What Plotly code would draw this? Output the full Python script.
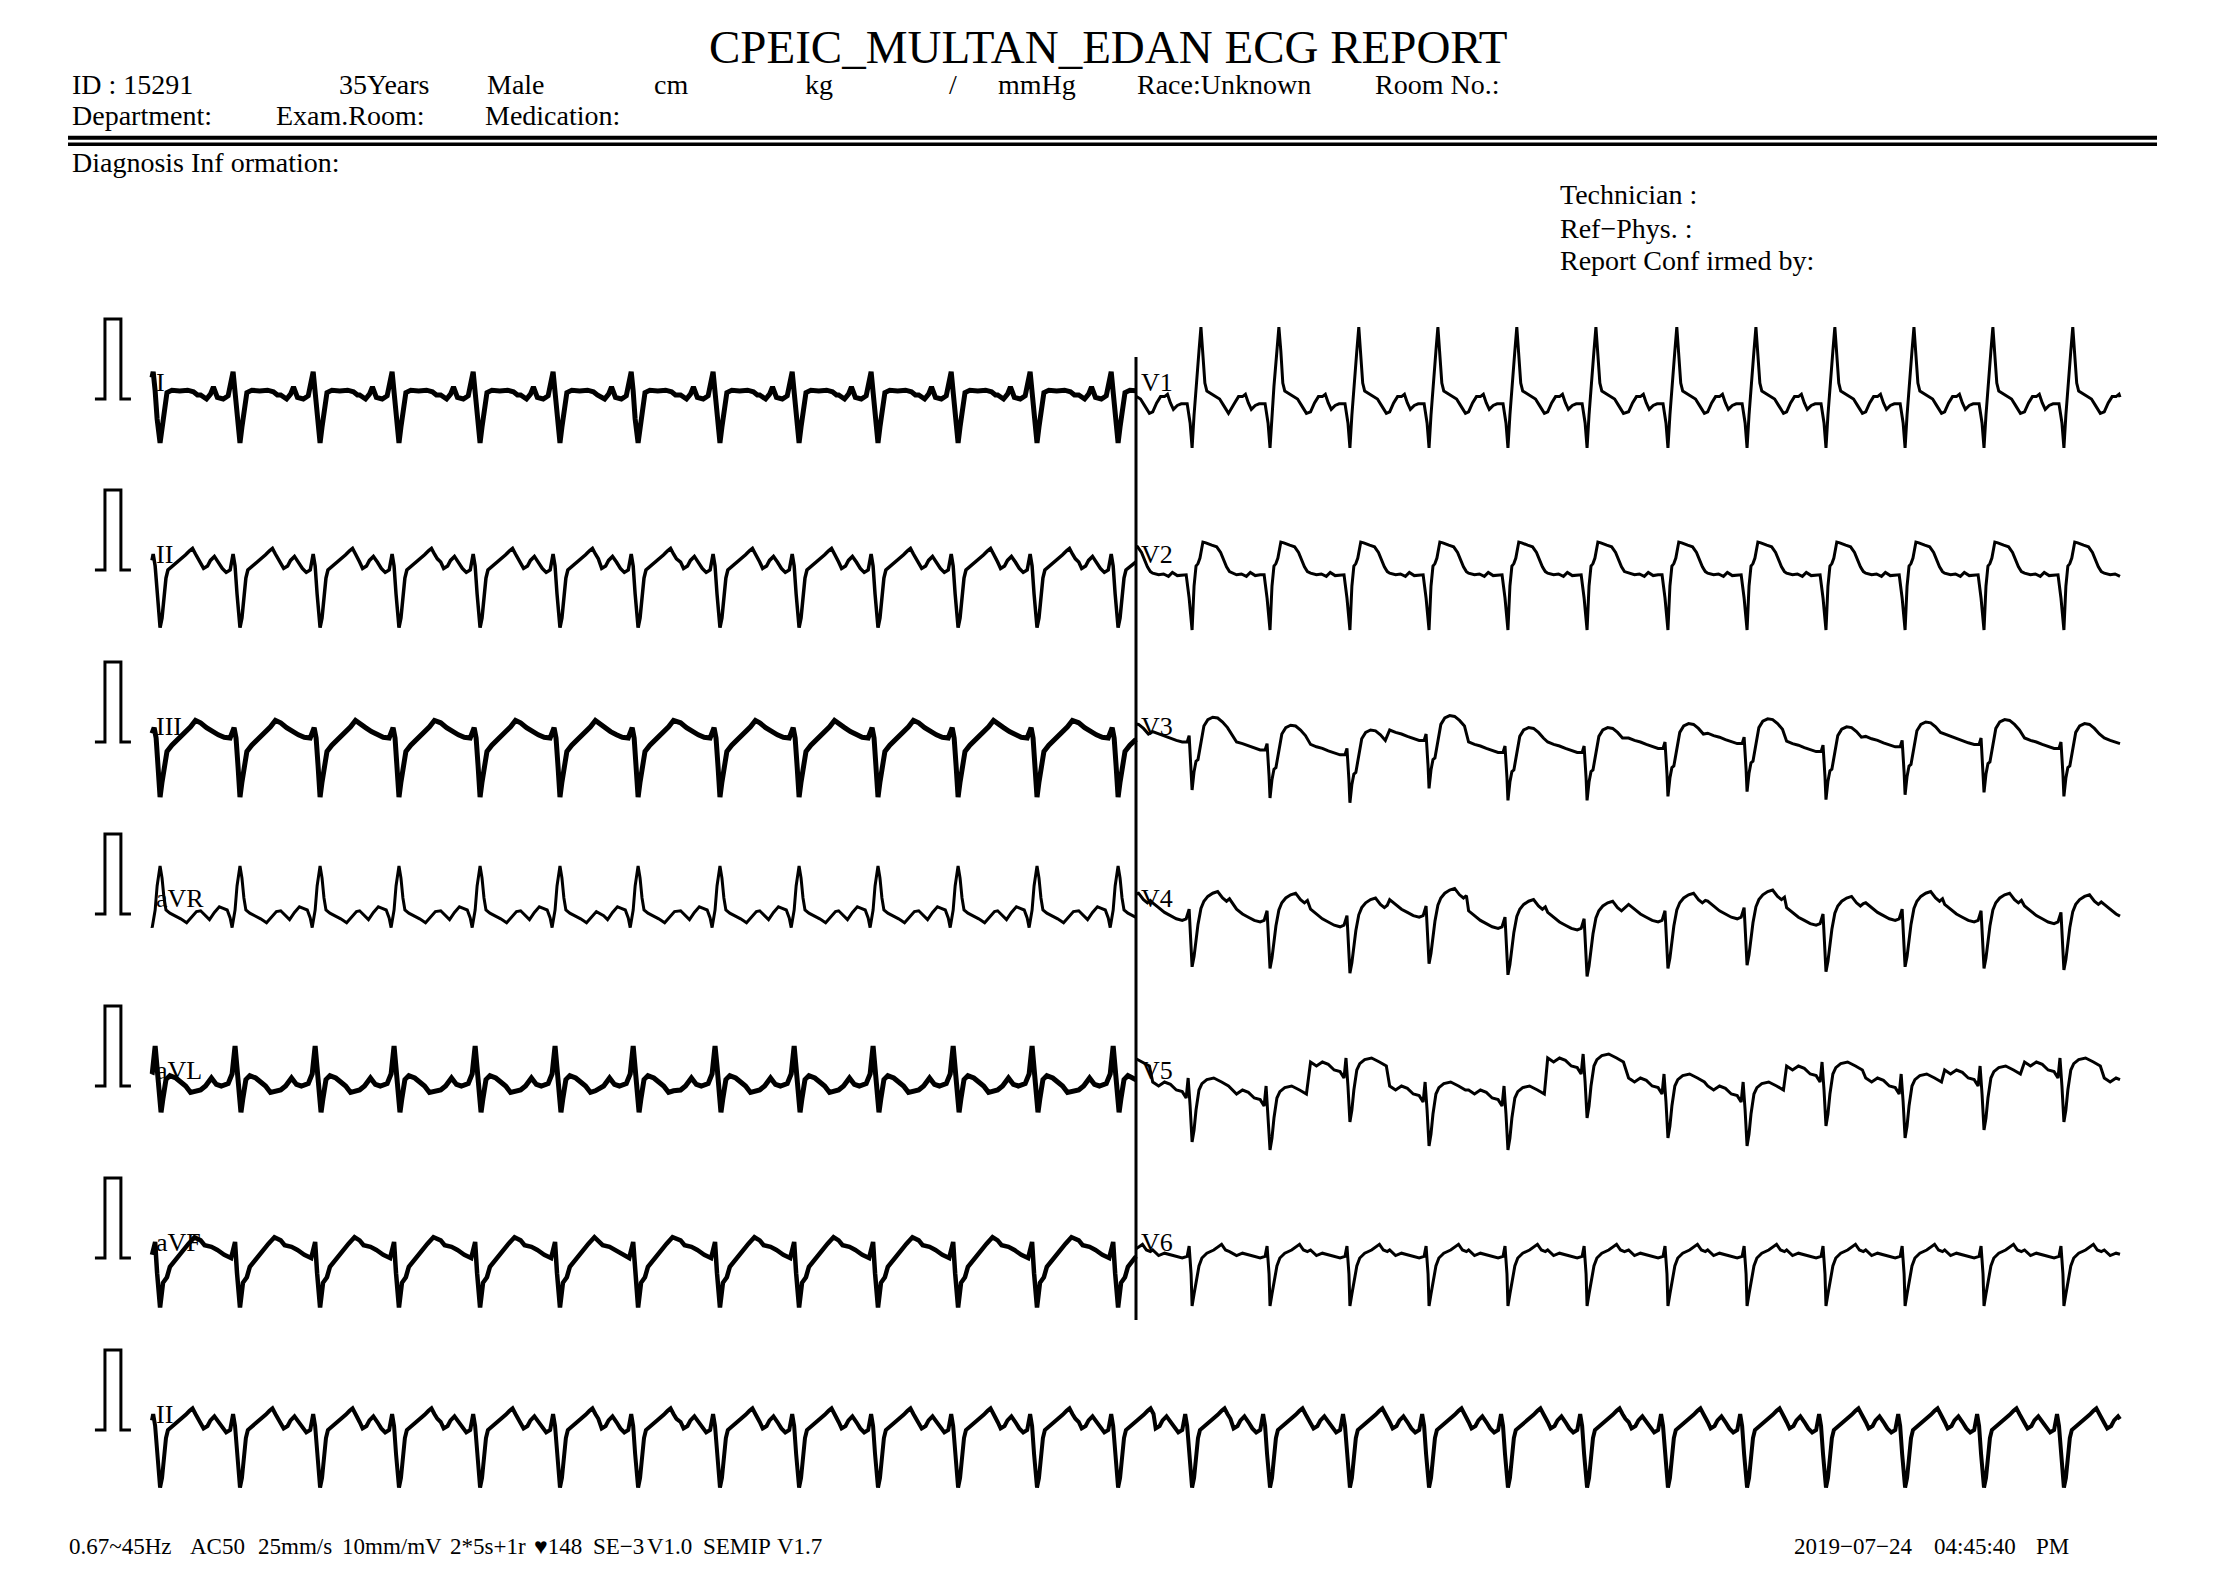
import numpy as np
import plotly.graph_objects as go

# ------------------------------------------------------------------ data
# QRS reference times (s) read from the strip (limb-lead column / chest-lead column / rhythm strip)
beats_left_s = [0.041, 0.447, 0.854, 1.255, 1.667, 2.073, 2.470, 2.886, 3.288, 3.689, 4.096, 4.497, 4.909]
beats_right_s = [4.883, 5.285, 5.681, 6.087, 6.489, 6.890, 7.292, 7.703, 8.105, 8.506, 8.908, 9.309, 9.715, 10.120]
beats_rhythm_s = [0.041, 0.447, 0.854, 1.255, 1.667, 2.073, 2.470, 2.886, 3.288, 3.689, 4.096, 4.497, 4.909,
                  5.285, 5.681, 6.087, 6.489, 6.890, 7.292, 7.703, 8.105, 8.506, 8.908, 9.309, 9.715, 10.120]

# one beat per lead: time from the QRS reference (ms) and amplitude (mV)
I_ms = [-200, -170, -150, -135, -115, -85, -60, -35, -25, -15, 0, 10, 20, 35, 60, 100, 140, 170, 190]
I_mv = [0.05, 0.00, 0.06, 0.15, 0.02, 0.00, 0.04, 0.34, 0.10, -0.25, -0.55, -0.35, -0.14, 0.08, 0.11, 0.10, 0.11, 0.09, 0.05]

II_ms = [-200, -185, -165, -150, -130, -110, -90, -70, -50, -35, -25, -15, 0, 10, 20, 30, 40, 50, 70, 90, 110, 130, 150, 165, 180, 195]
II_mv = [0.10, 0.02, 0.05, 0.12, 0.17, 0.10, 0.02, -0.03, 0.00, 0.20, 0.05, -0.30, -0.72, -0.60, -0.35, -0.10, 0.00, 0.02, 0.06, 0.10, 0.14, 0.19, 0.24, 0.27, 0.20, 0.14]

III_ms = [-200, -170, -140, -110, -80, -50, -30, -20, -10, 0, 10, 20, 35, 60, 90, 125, 155, 180]
III_mv = [0.24, 0.18, 0.13, 0.09, 0.06, 0.05, 0.18, 0.05, -0.30, -0.69, -0.50, -0.30, -0.12, -0.04, 0.03, 0.11, 0.19, 0.27]

aVR_ms = [-200, -175, -155, -130, -105, -85, -65, -50, -40, -25, -15, 0, 10, 20, 30, 50, 75, 105, 135, 165, 185]
aVR_mv = [0.04, -0.02, -0.07, 0.02, 0.09, 0.07, 0.05, -0.05, -0.17, 0.05, 0.35, 0.60, 0.45, 0.20, 0.05, 0.01, -0.02, -0.06, -0.11, -0.03, 0.03]

aVL_ms = [-200, -175, -145, -120, -95, -60, -40, -25, -15, -5, 5, 15, 30, 50, 80, 105, 130, 155, 180]
aVL_mv = [-0.05, 0.00, 0.10, 0.02, 0.00, 0.03, 0.15, 0.50, 0.25, -0.10, -0.33, -0.15, 0.08, 0.13, 0.10, 0.05, 0.00, -0.08, -0.06]

aVF_ms = [-200, -180, -145, -115, -80, -45, -25, -15, 0, 15, 35, 50, 85, 115, 145, 175]
aVF_mv = [0.22, 0.16, 0.14, 0.10, 0.04, 0.00, 0.20, -0.19, -0.62, -0.31, -0.24, -0.11, 0.00, 0.10, 0.18, 0.26]

V1_ms = [-200, -180, -160, -140, -125, -110, -95, -75, -55, -25, -10, 0, 10, 20, 35, 45, 55, 65, 75, 100, 120, 140, 160, 185]
V1_mv = [-0.16, -0.05, 0.03, 0.03, 0.06, -0.05, -0.13, -0.08, -0.06, -0.06, -0.30, -0.61, -0.20, 0.16, 0.60, 0.90, 0.60, 0.20, 0.10, 0.06, 0.03, 0.00, -0.08, -0.18]

V2_ms = [-200, -170, -145, -120, -100, -75, -50, -30, -15, 0, 10, 20, 30, 40, 55, 70, 100, 125, 145, 160, 175, 190]
V2_mv = [-0.04, -0.06, -0.05, -0.08, -0.03, -0.07, -0.06, -0.06, -0.35, -0.75, -0.20, 0.05, 0.08, 0.15, 0.35, 0.34, 0.31, 0.29, 0.22, 0.12, 0.04, -0.02]

V3_ms = [-200, -170, -140, -110, -80, -50, -25, -15, -5, 0, 10, 20, 30, 45, 60, 80, 105, 130, 155, 180]
V3_mv = [0.05, 0.02, 0.00, -0.03, -0.06, -0.08, -0.08, 0.00, -0.40, -0.68, -0.45, -0.32, -0.30, -0.10, 0.12, 0.20, 0.23, 0.22, 0.17, 0.10]
V3_level = [0.00, 0.08, -0.02, -0.08, 0.10, -0.05, -0.05, 0.00, 0.06, -0.04, 0.02, 0.05, 0.00, 0.00]

V4_ms = [-200, -170, -140, -110, -80, -50, -30, -15, -5, 0, 10, 20, 30, 45, 60, 80, 105, 130, 155, 175, 190]
V4_mv = [0.12, 0.06, 0.00, -0.04, -0.08, -0.10, -0.08, 0.04, -0.35, -0.68, -0.55, -0.35, -0.15, 0.05, 0.14, 0.20, 0.24, 0.26, 0.18, 0.14, 0.17]
V4_level = [0.00, 0.02, 0.00, -0.06, 0.06, -0.08, -0.10, 0.00, 0.04, -0.04, 0.02, 0.00, -0.02, 0.00]

V5_ms = [-200, -170, -140, -110, -80, -50, -30, -20, -10, 0, 10, 20, 35, 50, 75, 110, 150, 185]
V5_mv = [0.00, -0.05, 0.00, -0.03, -0.10, -0.12, -0.20, 0.05, -0.30, -0.75, -0.60, -0.35, -0.10, -0.02, 0.03, 0.05, 0.00, -0.05]
V5_level = [0.30, 0.05, -0.05, 0.30, 0.00, -0.05, 0.35, 0.10, 0.00, 0.25, 0.10, 0.20, 0.30, 0.10]

V6_ms = [-200, -170, -140, -110, -80, -50, -25, -15, -5, 0, 10, 20, 35, 50, 75, 110, 135, 150, 170, 190]
V6_mv = [0.10, 0.03, 0.06, 0.04, 0.02, 0.00, 0.02, 0.15, -0.20, -0.60, -0.45, -0.30, -0.10, 0.00, 0.06, 0.10, 0.15, 0.17, 0.10, 0.08]

# 1 mV calibration pulse
cal_s = [-0.290, -0.239, -0.239, -0.158, -0.158, -0.107]
cal_mv = [0, 0, 1, 1, 0, 0]

left_leads = ["I", "II", "III", "aVR", "aVL", "aVF"]
right_leads = ["V1", "V2", "V3", "V4", "V5", "V6"]
rhythm_lead = "II"

title_text = "CPEIC_MULTAN_EDAN ECG REPORT"
header_row1 = ["ID : 15291", "35Years", "Male", "cm", "kg", "/", "mmHg", "Race:Unknown", "Room No.:"]
header_row2 = ["Department:", "Exam.Room:", "Medication:"]
diag_text = "Diagnosis Inf ormation:"
sign_lines = ["Technician :", "Ref\u2212Phys. :", "Report Conf irmed by:"]
footer_tokens = ["0.67~45Hz", "AC50", "25mm/s", "10mm/mV", "2*5s+1r", "\u2665148", "SE\u22123", "V1.0", "SEMIP", "V1.7"]
date_tokens = ["2019\u221207\u221224", "04:45:40", "PM"]

# ------------------------------------------------------------------ layout constants
W, H = 2213, 1572
X0_PX = 152          # pixel of t = 0 s
PX_PER_S = 196.8     # 25 mm/s
PX_PER_MV = 80       # 10 mm/mV
ROW_BASE_PX = [399, 570, 742, 914, 1086, 1258, 1430]
SERIF = "Liberation Serif, Times New Roman, serif"

templates = {
    "I": (I_ms, I_mv, None), "II": (II_ms, II_mv, None), "III": (III_ms, III_mv, None),
    "aVR": (aVR_ms, aVR_mv, None), "aVL": (aVL_ms, aVL_mv, None), "aVF": (aVF_ms, aVF_mv, None),
    "V1": (V1_ms, V1_mv, None), "V2": (V2_ms, V2_mv, None), "V3": (V3_ms, V3_mv, V3_level),
    "V4": (V4_ms, V4_mv, V4_level), "V5": (V5_ms, V5_mv, V5_level), "V6": (V6_ms, V6_mv, None),
}
line_w = {"I": 5, "II": 3.5, "III": 5, "aVR": 3, "aVL": 5, "aVF": 4.5,
          "V1": 3, "V2": 3, "V3": 3, "V4": 3, "V5": 3, "V6": 3}


def build(beats, dt_ms, mv, t0, t1, levels=None):
    ts, vs = [], []
    n = len(beats)
    for k, tb in enumerate(beats):
        lo = (tb - beats[k - 1]) / 2 if k > 0 else 1.0
        hi = (beats[k + 1] - tb) / 2 if k < n - 1 else 1.0
        lev = levels[k] if levels is not None else 0.0
        for d, v in zip(dt_ms, mv):
            ds = d / 1000.0
            if -lo <= ds < hi:
                ts.append(tb + ds)
                vs.append(v + lev)
    ts = np.array(ts)
    vs = np.array(vs)
    m = (ts > t0) & (ts < t1)
    x = [t0] + list(ts[m]) + [t1]
    y = [float(np.interp(t0, ts, vs))] + list(vs[m]) + [float(np.interp(t1, ts, vs))]
    return x, y


def off(row):
    return (H - ROW_BASE_PX[row]) / PX_PER_MV


fig = go.Figure()

for r, name in enumerate(left_leads):
    ms, mv, lev = templates[name]
    x, y = build(beats_left_s, ms, mv, 0.0, 5.0, lev)
    fig.add_trace(go.Scatter(x=x, y=[v + off(r) for v in y], mode="lines",
                             line=dict(color="black", width=line_w[name]), hoverinfo="skip"))
for r, name in enumerate(right_leads):
    ms, mv, lev = templates[name]
    x, y = build(beats_right_s, ms, mv, 5.0, 10.0, lev)
    fig.add_trace(go.Scatter(x=x, y=[v + off(r) for v in y], mode="lines",
                             line=dict(color="black", width=line_w[name]), hoverinfo="skip"))
ms, mv, lev = templates[rhythm_lead]
x, y = build(beats_rhythm_s, ms, mv, 0.0, 10.0, lev)
fig.add_trace(go.Scatter(x=x, y=[v + off(6) for v in y], mode="lines",
                         line=dict(color="black", width=4), hoverinfo="skip"))

for r in range(7):
    fig.add_trace(go.Scatter(x=cal_s, y=[v + off(r) for v in cal_mv], mode="lines",
                             line=dict(color="black", width=3), hoverinfo="skip"))

ann = []


def txt(s, px, py, size, anchor="left"):
    ann.append(dict(text=s, x=px / W, y=1 - py / H, xref="paper", yref="paper",
                    xanchor=anchor, yanchor="middle", showarrow=False,
                    font=dict(family=SERIF, size=size, color="black")))


txt(title_text, 1108, 47, 47, "center")
for s, px in zip(header_row1, [70, 337, 485, 652, 803, 947, 996, 1135, 1373]):
    txt(s, px, 85, 28)
for s, px in zip(header_row2, [70, 274, 483]):
    txt(s, px, 116, 28)
txt(diag_text, 70, 162, 28)
for s, py in zip(sign_lines, [195, 228, 261]):
    txt(s, 1558, py, 28)
for s, px in zip(footer_tokens, [67, 188, 256, 340, 448, 532, 591, 645, 701, 775]):
    txt(s, px, 1546, 23)
for s, px in zip(date_tokens, [1792, 1932, 2034]):
    txt(s, px, 1546, 23)

for r, name in enumerate(left_leads):
    txt(name, 154, ROW_BASE_PX[r] - 16, 26)
for r, name in enumerate(right_leads):
    txt(name, 1139, ROW_BASE_PX[r] - 16, 26)
txt(rhythm_lead, 154, ROW_BASE_PX[6] - 16, 26)

shapes = [
    dict(type="line", xref="paper", yref="paper", x0=68 / W, x1=2157 / W,
         y0=1 - 137.7 / H, y1=1 - 137.7 / H, line=dict(color="black", width=4)),
    dict(type="line", xref="paper", yref="paper", x0=68 / W, x1=2157 / W,
         y0=1 - 144.2 / H, y1=1 - 144.2 / H, line=dict(color="black", width=3.5)),
    dict(type="line", xref="x", yref="paper", x0=5.0, x1=5.0,
         y0=1 - 357 / H, y1=1 - 1320 / H, line=dict(color="black", width=3)),
]

fig.update_layout(
    width=W, height=H, margin=dict(l=0, r=0, t=0, b=0),
    paper_bgcolor="white", plot_bgcolor="white", showlegend=False,
    xaxis=dict(range=[-X0_PX / PX_PER_S, (W - X0_PX) / PX_PER_S], visible=False, fixedrange=True),
    yaxis=dict(range=[0, H / PX_PER_MV], visible=False, fixedrange=True),
    annotations=ann, shapes=shapes,
)

fig.write_html("out.html")
